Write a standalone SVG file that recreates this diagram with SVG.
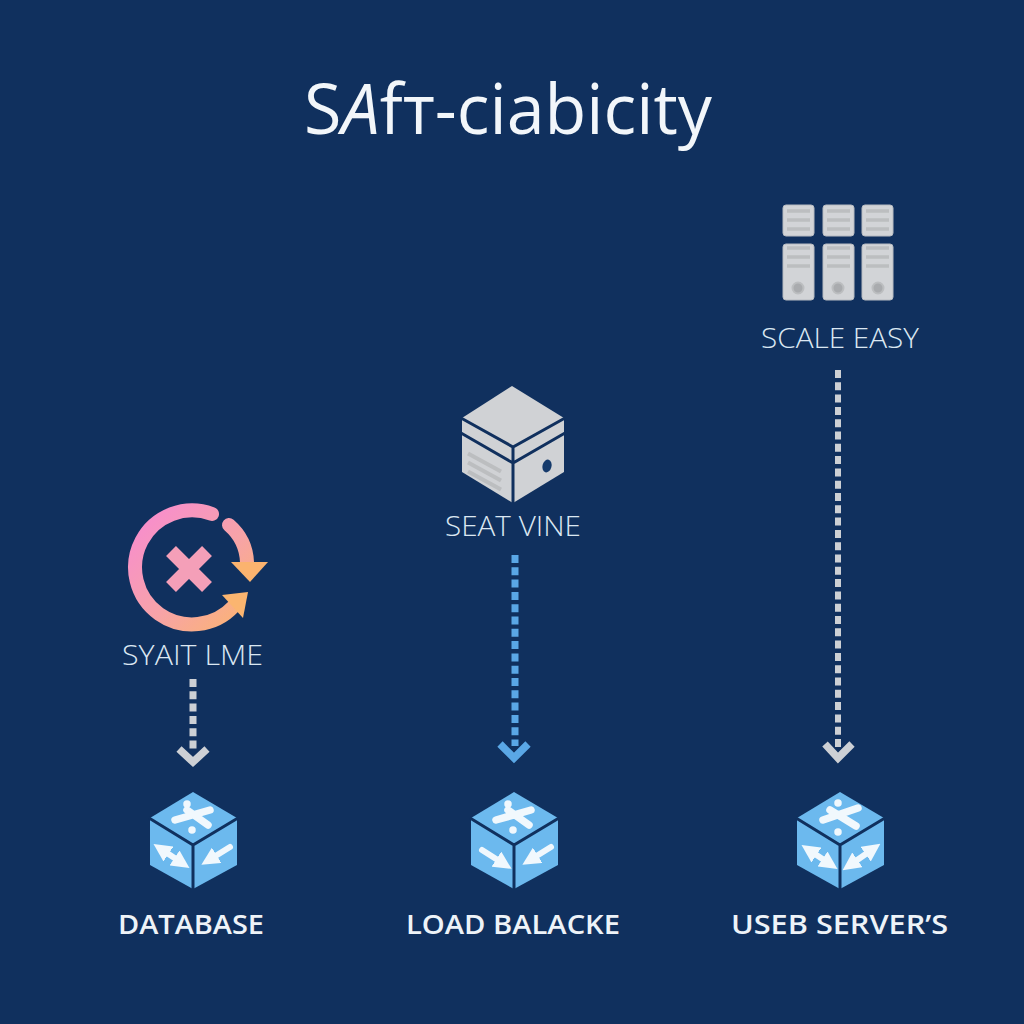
<svg xmlns="http://www.w3.org/2000/svg" xmlns:xlink="http://www.w3.org/1999/xlink" width="1024" height="1024" viewBox="0 0 1024 1024">
<style>
.light{font-family:"Open Sans","Liberation Sans",sans-serif;font-weight:300;fill:#dbe7f2;font-size:27px;text-anchor:start}
.bold{font-family:"Open Sans","Liberation Sans",sans-serif;font-weight:600;fill:#eef3f8;font-size:27px}
.title{font-family:"Open Sans","Liberation Sans",sans-serif;font-weight:400;fill:#f2f6fa;font-size:70px}
.seam{fill:none;stroke:#10305e;stroke-width:3;stroke-linejoin:miter}
.flow{fill:none;stroke-width:7;stroke-dasharray:8 4.3}
.head{fill:none;stroke-width:7.5}
.gray{stroke:#cdd0d5}
.blue{stroke:#5aa7e6}
.mark{fill:none;stroke:#f1f8fd;stroke-width:7.5;stroke-linecap:round;stroke-linejoin:round}
.arr{fill:none;stroke:#f1f8fd;stroke-width:6;stroke-linecap:round;marker-end:url(#ah)}
.arr2{marker-start:url(#ah)}
.unit{fill:#d2d4d7;stroke:#b7bbc1;stroke-width:1}
.stripe{stroke:#bcbec0;stroke-width:3.5}
.knob{fill:#a9abae;stroke:#bcbec0;stroke-width:2}
.ring{fill:none;stroke:url(#g);stroke-width:14;stroke-linecap:round}
</style>
<defs>
<linearGradient id="g" gradientUnits="userSpaceOnUse" x1="140" y1="510" x2="250" y2="625">
<stop offset="0" stop-color="#f78cd0"/><stop offset=".55" stop-color="#f7a3a8"/><stop offset="1" stop-color="#fbb570"/>
</linearGradient>
<marker id="ah" viewBox="0 0 10 10" refX="5" refY="5" markerWidth="3" markerHeight="3" orient="auto-start-reverse">
<path d="M0 0L10 5L0 10z" fill="#f1f8fd"/>
</marker>
<g id="cube">
<path d="M193 792L237 818V865L193 889L150 865V818z" fill="#6cb9ee"/>
<path class="seam" d="M149 818L193 845L238 818M193 845V889"/>
</g>
</defs>
<rect width="1024" height="1024" fill="#10305e"/>
<text id="title" class="title" x="304" y="134" textLength="408" lengthAdjust="spacingAndGlyphs">S<tspan font-style="italic">A</tspan>fт-ciabicity</text>

<g id="connectors">
<path class="flow gray" d="M193 679V750"/>
<path class="head gray" d="M179 749L193 762L207 749"/>
<path class="flow blue" d="M515 555V746"/>
<path class="head blue" d="M500 744L514 758L528 744"/>
<path class="flow gray" style="stroke-width:6" d="M838 370V748"/>
<path class="head gray" d="M825 744L838 758L852 744"/>
</g>

<g id="node-syait">
<path class="ring" d="M212 514A57 57 0 1 0 234 606"/>
<path d="M222 595L248 592L243 618z" fill="#fbb570"/>
<path class="ring" d="M229 525A52 52 0 0 1 247 562"/>
<path d="M231 562H268L250 582z" fill="#fbb36f"/>
<path d="M171 551L207 587M207 551L171 587" fill="none" stroke="#f49fb8" stroke-width="14"/>
<text class="light" x="122" y="665" textLength="141" lengthAdjust="spacingAndGlyphs">SYAIT LME</text>
</g>

<g id="node-seat">
<path d="M512 386L564 418V472L513 503L462 472V418z" fill="#d0d2d5"/>
<path class="seam" d="M461 418L513 447L565 418M513 447V503M461 433L513 463L565 433"/>
<path class="stripe" style="stroke-width:4" d="M468 454L501 472M468 463L501 481M468 472L501 490" transform="translate(0 -.5)"/>
<ellipse cx="547" cy="466" rx="4.5" ry="6.5" transform="rotate(15 547 466)" fill="#153a6b"/>
<text class="light" x="445" y="536" textLength="136" lengthAdjust="spacingAndGlyphs">SEAT VINE</text>
</g>

<g id="node-scale">
<g class="unit">
<rect x="783" y="205" width="31" height="31" rx="3"/><rect x="823" y="205" width="31" height="31" rx="3"/><rect x="862" y="205" width="31" height="31" rx="3"/>
<rect x="783" y="244" width="31" height="56" rx="3"/><rect x="823" y="244" width="31" height="56" rx="3"/><rect x="862" y="244" width="31" height="56" rx="3"/>
</g>
<path class="stripe" d="M787 211H810M827 211H850M866 211H889M787 220H810M827 220H850M866 220H889M787 229H810M827 229H850M866 229H889M787 248H810M827 248H850M866 248H889M787 257H810M827 257H850M866 257H889M787 266H810M827 266H850M866 266H889"/>
<circle class="knob" cx="798" cy="288" r="5.5"/><circle class="knob" cx="838" cy="288" r="5.5"/><circle class="knob" cx="878" cy="288" r="5.5"/>
<text class="light" x="761" y="348" textLength="158" lengthAdjust="spacingAndGlyphs">SCALE EASY</text>
</g>

<g id="node-database">
<use href="#cube" xlink:href="#cube"/>
<path class="mark" d="M210 810L175 820M187 810L208 825M187 804v.1M192 830v.1"/>
<path class="arr arr2" d="M161 849L182 863"/>
<path class="arr" d="M230 847L209 860"/>
<text class="bold" x="118" y="934" textLength="146" lengthAdjust="spacingAndGlyphs">DATABASE</text>
</g>

<g id="node-load">
<use href="#cube" xlink:href="#cube" x="321"/>
<path class="mark" d="M531 810L496 820M508 810L529 825M508 804v.1M513 830v.1"/>
<path class="arr" d="M482 850L504 864"/>
<path class="arr" d="M551 847L530 860"/>
<text class="bold" x="406" y="934" textLength="214" lengthAdjust="spacingAndGlyphs">LOAD BALACKE</text>
</g>

<g id="node-useb">
<use href="#cube" xlink:href="#cube" x="647"/>
<path class="mark" d="M858 808L823 820M830 810L856 826M838 803v.1M838 832v.1"/>
<path class="arr arr2" d="M809 850L830 864"/>
<path class="arr arr2" d="M850 865L873 849"/>
<text class="bold" x="731" y="934" textLength="217" lengthAdjust="spacingAndGlyphs">USEB SERVER’S</text>
</g>
</svg>
